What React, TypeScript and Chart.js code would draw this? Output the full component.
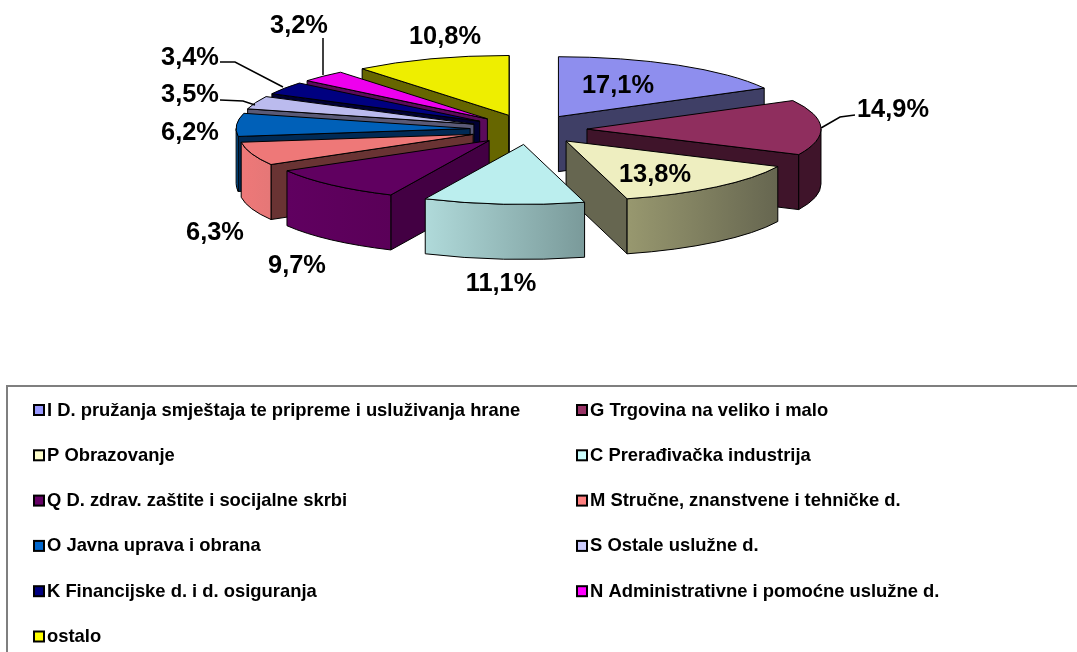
import React, { useEffect, useRef } from "react";
import { Chart, registerables } from "chart.js";

Chart.register(...registerables);

const categories = [
  "I D. pružanja smještaja te pripreme i usluživanja hrane",
  "G Trgovina na veliko i malo",
  "P Obrazovanje",
  "C Prerađivačka industrija",
  "Q D. zdrav. zaštite i socijalne skrbi",
  "M Stručne, znanstvene i tehničke d.",
  "O Javna uprava i obrana",
  "S Ostale uslužne d.",
  "K Financijske d. i d. osiguranja",
  "N Administrativne i pomoćne uslužne d.",
  "ostalo",
];
const shares = [17.1, 14.9, 13.8, 11.1, 9.7, 6.3, 6.2, 3.5, 3.4, 3.2, 10.8];

const faceColors = ["#8e8eee", "#8f2e5e", "#eeeec0", "#bbeeee", "#600060", "#ee7878", "#0060b8", "#bbbbee", "#000080", "#ee00ee", "#eeee00"];
const legendColors = ["#9999ff", "#993366", "#ffffcc", "#ccffff", "#660066", "#ff8080", "#0066cc", "#ccccff", "#000080", "#ff00ff", "#ffff00"];
const cutColors = ["#3f3f66", "#3f142a", "#666650", "#666666", "#430043", "#693333", "#002a55", "#5a5a77", "#000033", "#5b0a5b", "#666600"];
const rimLeftColors = ["#3f3f66", "#3f142a", "#98986f", "#b0dada", "#600060", "#ee7878", "#0060b0", "#5a5a77", "#000033", "#5b0a5b", "#666600"];
const rimRightColors = ["#3f3f66", "#3f142a", "#666650", "#7a9a9a", "#5a0058", "#e57777", "#0060b0", "#5a5a77", "#000033", "#5b0a5b", "#666600"];

// Label centres and leader lines (screen pixels)
const labelCentres = [[618, 86], [893, 110], [655, 175], [501, 284], [297, 266], [215, 233], [190, 133], [190, 95], [190, 58], [299, 26], [445, 37]];
const leaders = [
  [[821, 128], [840, 117], [855, 115]],
  [[220, 62], [235, 62], [283, 87]],
  [[220, 100], [243, 101], [255, 105]],
  [[323, 38], [323, 75]],
];

const CENTRE_Y = 129.5;
const SQUASH = 0.256;
const DEPTH = 55;
const RADIUS = 234;
const EXPLODE = 58.5;
const FONT = '"Liberation Sans", Arial, sans-serif';

const pie3d = {
  id: "pie3d",
  beforeDatasetDraw(chart: any, args: any) {
    const ctx = chart.ctx as CanvasRenderingContext2D;
    const slices = args.meta.data.map((el: any, i: number) => {
      const p = el.getProps(["x", "y", "startAngle", "endAngle", "outerRadius"], true);
      const mid = (p.startAngle + p.endAngle) / 2;
      const off = el.options.offset || 0;
      return {
        i,
        a0: p.startAngle,
        a1: p.endAngle,
        r: p.outerRadius,
        cx: p.x + off * Math.cos(mid),
        cy: CENTRE_Y + off * Math.sin(mid) * SQUASH,
      };
    });
    slices.sort((a: any, b: any) => a.cy - b.cy);
    ctx.save();
    ctx.lineWidth = 1;
    ctx.strokeStyle = "#000";
    ctx.lineJoin = "round";
    for (const s of slices) {
      const ry = s.r * SQUASH;
      const pt = (a: number) => [s.cx + s.r * Math.cos(a), s.cy + ry * Math.sin(a)];
      const cut = (a: number) => {
        const [x, y] = pt(a);
        ctx.beginPath();
        ctx.moveTo(s.cx, s.cy);
        ctx.lineTo(x, y);
        ctx.lineTo(x, y + DEPTH);
        ctx.lineTo(s.cx, s.cy + DEPTH);
        ctx.closePath();
        ctx.fillStyle = cutColors[s.i];
        ctx.fill();
        ctx.stroke();
      };
      if (Math.cos(s.a0) < 0) cut(s.a0);
      if (Math.cos(s.a1) > 0) cut(s.a1);

      // the part of the outer rim that faces the viewer
      const ranges = [[s.a0, s.a1], [s.a0 + 2 * Math.PI, s.a1 + 2 * Math.PI], [s.a0 - 2 * Math.PI, s.a1 - 2 * Math.PI]];
      for (const [ra, rb] of ranges) {
        const a = Math.max(ra, 0);
        const b = Math.min(rb, Math.PI);
        if (b <= a) continue;
        const xa = pt(a)[0];
        const xb = pt(b)[0];
        const g = ctx.createLinearGradient(Math.min(xa, xb), 0, Math.max(xa, xb), 0);
        g.addColorStop(0, rimLeftColors[s.i]);
        g.addColorStop(1, rimRightColors[s.i]);
        ctx.beginPath();
        ctx.ellipse(s.cx, s.cy, s.r, ry, 0, a, b);
        ctx.ellipse(s.cx, s.cy + DEPTH, s.r, ry, 0, b, a, true);
        ctx.closePath();
        ctx.fillStyle = g;
        ctx.fill();
        ctx.stroke();
      }

      // top face
      ctx.beginPath();
      ctx.moveTo(s.cx, s.cy);
      ctx.ellipse(s.cx, s.cy, s.r, ry, 0, s.a0, s.a1);
      ctx.closePath();
      ctx.fillStyle = faceColors[s.i];
      ctx.fill();
      ctx.stroke();
    }
    ctx.restore();
    return false;
  },
  afterDraw(chart: any) {
    const ctx = chart.ctx as CanvasRenderingContext2D;
    ctx.save();
    // leaders
    ctx.strokeStyle = "#000";
    ctx.lineWidth = 1.5;
    for (const line of leaders) {
      ctx.beginPath();
      line.forEach(([x, y], k) => (k ? ctx.lineTo(x, y) : ctx.moveTo(x, y)));
      ctx.stroke();
    }
    // value labels
    ctx.fillStyle = "#000";
    ctx.font = `bold 25.4px ${FONT}`;
    ctx.textAlign = "center";
    ctx.textBaseline = "middle";
    const values = chart.data.datasets[0].data as number[];
    values.forEach((v, i) => {
      ctx.fillText(`${v.toFixed(1).replace(".", ",")}%`, labelCentres[i][0], labelCentres[i][1]);
    });
    // legend
    ctx.strokeStyle = "#7f7f7f";
    ctx.lineWidth = 2;
    ctx.beginPath();
    ctx.moveTo(7, 652);
    ctx.lineTo(7, 386);
    ctx.lineTo(1077, 386);
    ctx.stroke();
    ctx.font = `bold 18.4px ${FONT}`;
    ctx.textAlign = "left";
    (chart.data.labels as string[]).forEach((label, i) => {
      const col = i % 2;
      const row = Math.floor(i / 2);
      const x = col ? 577 : 34;
      const y = 410 + row * 45.3;
      ctx.fillStyle = legendColors[i];
      ctx.strokeStyle = "#000";
      ctx.lineWidth = 2;
      ctx.fillRect(x, y - 5, 10, 10);
      ctx.strokeRect(x, y - 5, 10, 10);
      ctx.fillStyle = "#000";
      ctx.fillText(label, x + 13, y + 0.5);
    });
    ctx.restore();
  },
};

export default function App() {
  const ref = useRef<HTMLCanvasElement>(null);
  useEffect(() => {
    const chart = new Chart(ref.current as HTMLCanvasElement, {
      type: "pie",
      data: {
        labels: categories,
        datasets: [{ data: shares, backgroundColor: faceColors, offset: EXPLODE, borderWidth: 0 }],
      },
      options: {
        animation: false,
        responsive: false,
        devicePixelRatio: 1,
        radius: RADIUS,
        layout: { padding: { right: 20 } },
        plugins: { legend: { display: false }, tooltip: { enabled: false } },
      } as any,
      plugins: [pie3d as any],
    });
    return () => chart.destroy();
  }, []);
  return (
    <canvas
      ref={ref}
      width={1077}
      height={652}
      style={{ position: "fixed", left: 0, top: 0, display: "block" }}
    />
  );
}
